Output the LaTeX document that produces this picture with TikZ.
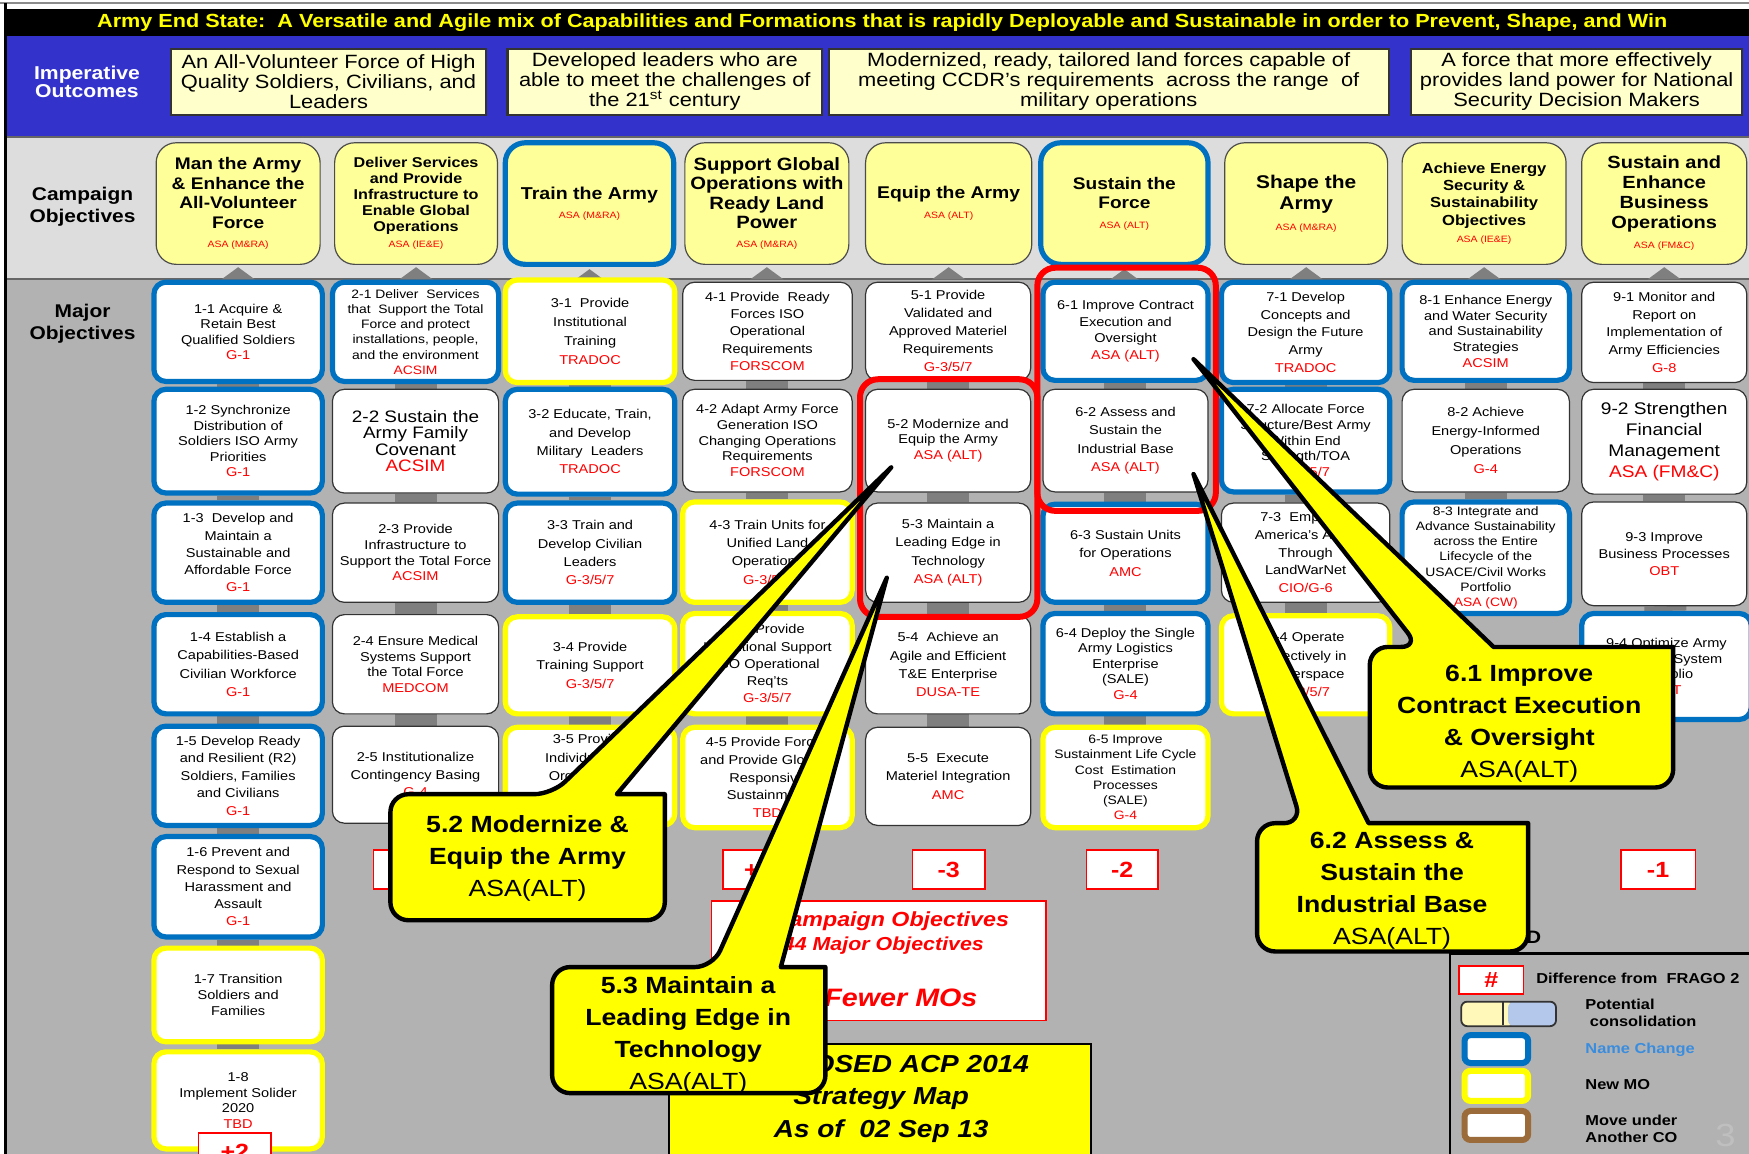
\documentclass[tikz,border=0pt]{standalone}
\usepackage{fontspec}
\setmainfont{Liberation Sans}[FakeStretch=1.138]
\usetikzlibrary{calc}
\definecolor{barblue}{HTML}{3333CC}
\definecolor{cream}{HTML}{FFFFCC}
\definecolor{coyellow}{HTML}{FFFF99}
\definecolor{bandgrey}{HTML}{DDDDDD}
\definecolor{mogrey}{HTML}{B2B2B2}
\definecolor{conngrey}{HTML}{7F7F7F}
\definecolor{nameblue}{HTML}{0070C0}
\definecolor{newyellow}{HTML}{FFFF00}
\definecolor{agred}{HTML}{FF0000}
\definecolor{movebrown}{HTML}{9C6B3A}
\definecolor{lblue}{HTML}{3A8DDE}
\definecolor{swyellow}{HTML}{FFF8B8}
\definecolor{swblue}{HTML}{B4C8EC}
\newcommand\ag[1]{\textcolor{agred}{#1}}
\newcommand\coag[1]{\textcolor{agred}{\mdseries\fontsize{4.6}{5}\selectfont #1}}
\newcommand\callout[8]{%
\path[callout] (#1,{(#2+#4)/2}) [rounded corners=9pt] -- (#1,#2) -- (#5,#2) [sharp corners] -- (#7,#8) -- (#6,#2) -- (#3,#2) [rounded corners=9pt] -- (#3,#4) -- (#1,#4) -- cycle;}
\pgfdeclarelayer{back}
\pgfdeclarelayer{mid}
\pgfsetlayers{back,mid,main}
\tikzset{
  bx/.style n args={4}{at={({(#1+#3)/2},{(#2+#4)/2})}, minimum width={(#3-#1)*0.5577pt}, minimum height={(#4-#2)*0.5577pt}},
  mo/.style={draw=black!80, line width=0.6pt, fill=white, rounded corners=6pt, inner sep=0pt, align=center, font=\fontsize{6.4}{7.8}\selectfont},
  mob/.style={mo, draw=nameblue, line width=2.6pt},
  moy/.style={mo, draw=newyellow, line width=2.6pt},
  co/.style={draw=black!70, line width=0.6pt, fill=coyellow, rounded corners=10pt, inner sep=0pt, align=center, font=\bfseries\fontsize{8.4}{9.8}\selectfont},
  cob/.style={co, draw=nameblue, line width=2.6pt},
  outc/.style={draw=black!80, line width=1.1pt, fill=cream, inner sep=0pt, align=center, font=\fontsize{9.6}{10}\selectfont},
  conn/.style={conngrey, line width=21pt},
  diff/.style={draw=agred, line width=0.8pt, fill=white, inner sep=0pt, text=agred, font=\bfseries\fontsize{11}{13}\selectfont},
  hl/.style={draw=agred, line width=3pt, rounded corners=9pt, inner sep=0pt},
  callout/.style={fill=newyellow, draw=black, line width=2.2pt, line join=round},
  ctext/.style={align=center, font=\bfseries\fontsize{11.7}{16}\selectfont},
  lgtext/.style={anchor=west, align=left, font=\bfseries\fontsize{7.2}{8.6}\selectfont},
  lgbox/.style={fill=white, line width=3pt, rounded corners=3pt, inner sep=0pt},
  rowlabel/.style={align=center, font=\bfseries\fontsize{9.2}{11}\selectfont},
}
\begin{document}
\begin{tikzpicture}[x=0.5577pt,y=-0.5577pt]
\useasboundingbox (0,0) rectangle (1568,1034);
% ---------- backgrounds
\begin{pgfonlayer}{back}
\fill[white] (0,0) rectangle (1568,1034);
\fill[black] (5,8) rectangle (1570,32);
\fill[barblue] (5,32) rectangle (1570,123);
\fill[bandgrey] (5,123) rectangle (1570,250);
\fill[mogrey] (5,250) rectangle (1570,1040);
\draw[black!60, line width=1pt] (5,123) -- (1570,123);
\draw[black!60, line width=1.2pt] (5,250) -- (1570,250);
\draw[black!45, line width=1pt] (0,3) -- (1570,3);
\draw[black, line width=1.4pt] (5,3) -- (5,1040);
\end{pgfonlayer}
% ---------- header
\node[text=newyellow, font=\bfseries\fontsize{9.5}{11}\selectfont] (endstate) at (791,20) {Army End State:\ \ A Versatile and Agile mix of Capabilities and Formations that is rapidly Deployable and Sustainable in order to Prevent, Shape, and Win};
\node[rowlabel, text=white, font=\bfseries\fontsize{9.3}{9}\selectfont] (implab) at (78,73) {Imperative\\Outcomes};
\node[outc, bx={153}{44}{436}{103}] (o1) {An All-Volunteer Force of High\\Quality Soldiers, Civilians, and\\Leaders};
\node[outc, bx={455}{44}{737}{103}] (o2) {Developed leaders who are\\able to meet the challenges of\\the 21\textsuperscript{st} century};
\node[outc, bx={743}{44}{1245}{103}] (o3) {Modernized, ready, tailored land forces capable of\\meeting CCDR's requirements\ \ across the range\ \ of\\military operations};
\node[outc, bx={1265}{44}{1562}{103}] (o4) {A force that more effectively\\provides land power for National\\Security Decision Makers};
% ---------- campaign objectives
\node[rowlabel] (colab) at (74,185) {Campaign\\Objectives};
\node[co, bx={140}{128}{287}{237}] (c1) {Man the Army\\\& Enhance the\\All-Volunteer\\Force\\\coag{ASA (M\&RA)}};
\node[co, bx={300}{128}{446}{237}, font=\bfseries\fontsize{7.1}{8}\selectfont] (c2) {Deliver Services\\and Provide\\Infrastructure to\\Enable Global\\Operations\\\coag{ASA (IE\&E)}};
\node[cob, bx={453}{128}{604}{237}, font=\bfseries\fontsize{8.6}{9.8}\selectfont] (c3) {Train the Army\\\coag{ASA (M\&RA)}};
\node[co, bx={614}{128}{761}{237}, font=\bfseries\fontsize{8.9}{9.6}\selectfont] (c4) {Support Global\\Operations with\\Ready Land\\Power\\\coag{ASA (M\&RA)}};
\node[co, bx={776}{128}{925}{237}, font=\bfseries\fontsize{8.5}{9.8}\selectfont] (c5) {Equip the Army\\\coag{ASA (ALT)}};
\node[cob, bx={933}{128}{1083}{237}, font=\bfseries\fontsize{8.4}{9.8}\selectfont] (c6) {Sustain the\\Force\\\coag{ASA (ALT)}};
\node[co, bx={1098}{128}{1244}{237}, font=\bfseries\fontsize{9.2}{10.5}\selectfont] (c7) {Shape the\\Army\\\coag{ASA (M\&RA)}};
\node[co, bx={1257}{128}{1404}{237}, font=\bfseries\fontsize{7.3}{8.6}\selectfont] (c8) {Achieve Energy\\Security \&\\Sustainability\\Objectives\\\coag{ASA (IE\&E)}};
\node[co, bx={1418}{128}{1566}{237}, font=\bfseries\fontsize{8.8}{10}\selectfont] (c9) {Sustain and\\Enhance\\Business\\Operations\\\coag{ASA (FM\&C)}};
\foreach \c in {c1,c2,c3,c4,c5,c6,c7,c8,c9}{
  \fill[conngrey] ($(\c.south)+(-15,13)$) -- ($(\c.south)+(0,2)$) -- ($(\c.south)+(15,13)$) -- cycle;
}
% ---------- major objectives
\node[rowlabel] (molab) at (74,290) {Major\\Objectives};
% column 1
\node[mob, bx={138}{253}{289}{342}] (m11) {1-1 Acquire \&\\Retain Best\\Qualified Soldiers\\\ag{G-1}};
\node[mob, bx={138}{349}{289}{442}] (m12) {1-2 Synchronize\\Distribution of\\Soldiers ISO Army\\Priorities\\\ag{G-1}};
\node[mob, bx={138}{451}{289}{540}, font=\fontsize{6.4}{8.6}\selectfont] (m13) {1-3\ \ Develop and\\Maintain a\\Sustainable and\\Affordable Force\\\ag{G-1}};
\node[mob, bx={138}{551}{289}{640}, font=\fontsize{6.4}{9.2}\selectfont] (m14) {1-4 Establish a\\Capabilities-Based\\Civilian Workforce\\\ag{G-1}};
\node[mob, bx={138}{651}{289}{740}, font=\fontsize{6.4}{8.8}\selectfont] (m15) {1-5 Develop Ready\\and Resilient (R2)\\Soldiers, Families\\and Civilians\\\ag{G-1}};
\node[mob, bx={138}{750}{289}{840}, font=\fontsize{6.4}{8.6}\selectfont] (m16) {1-6 Prevent and\\Respond to Sexual\\Harassment and\\Assault\\\ag{G-1}};
\node[moy, bx={138}{850}{289}{934}] (m17) {1-7 Transition\\Soldiers and\\Families};
\node[moy, bx={138}{943}{289}{1030}] (m18) {1-8\\Implement Solider\\2020\\\ag{TBD}};
% column 2
\node[mob, bx={298}{253}{447}{342}, font=\fontsize{6.1}{7.6}\selectfont] (m21) {2-1 Deliver\ \ Services\\that\ \ Support the Total\\Force and protect\\installations, people,\\and the environment\\\ag{ACSIM}};
\node[mo, bx={298}{349}{447}{442}, font=\fontsize{8.3}{8.2}\selectfont] (m22) {2-2 Sustain the\\Army Family\\Covenant\\\ag{ACSIM}};
\node[mo, bx={298}{451}{447}{540}] (m23) {2-3 Provide\\Infrastructure to\\Support the Total Force\\\ag{ACSIM}};
\node[mo, bx={298}{551}{447}{640}] (m24) {2-4 Ensure Medical\\Systems Support\\the Total Force\\\ag{MEDCOM}};
\node[mo, bx={298}{651}{447}{738}, font=\fontsize{6.4}{8.8}\selectfont] (m25) {2-5 Institutionalize\\Contingency Basing\\\ag{G-4}};
% column 3
\node[moy, bx={453}{251}{605}{343}, font=\fontsize{6.4}{9.4}\selectfont] (m31) {3-1\ \ Provide\\Institutional\\Training\\\ag{TRADOC}};
\node[mob, bx={453}{349}{605}{443}, font=\fontsize{6.4}{9.2}\selectfont] (m32) {3-2 Educate, Train,\\and Develop\\Military\ \ Leaders\\\ag{TRADOC}};
\node[mob, bx={453}{451}{605}{540}, font=\fontsize{6.4}{9.2}\selectfont] (m33) {3-3 Train and\\Develop Civilian\\Leaders\\\ag{G-3/5/7}};
\node[moy, bx={453}{553}{605}{640}, font=\fontsize{6.4}{9.2}\selectfont] (m34) {3-4 Provide\\Training Support\\\ag{G-3/5/7}};
\node[moy, bx={453}{652}{605}{740}, font=\fontsize{6.4}{9.4}\selectfont] (m35) {3-5 Provide\\Individual and\\Organization\\\mbox{}\\\mbox{}};
% column 4
\node[mo, bx={612}{253}{764}{341}, font=\fontsize{6.4}{8.6}\selectfont] (m41) {4-1 Provide\ \ Ready\\Forces ISO\\Operational\\Requirements\\\ag{FORSCOM}};
\node[mo, bx={612}{349}{764}{441}] (m42) {4-2 Adapt Army Force\\Generation ISO\\Changing Operations\\Requirements\\\ag{FORSCOM}};
\node[moy, bx={612}{450}{764}{540}, font=\fontsize{6.4}{9.2}\selectfont] (m43) {4-3 Train Units for\\Unified Land\\Operations\\\ag{G-3/5/7}};
\node[moy, bx={612}{550}{764}{640}, font=\fontsize{6.4}{8.6}\selectfont] (m44) {4-4 Provide\\Institutional Support\\ISO Operational\\Req'ts\\\ag{G-3/5/7}};
\node[moy, bx={612}{652}{764}{742}, font=\fontsize{6.4}{8.8}\selectfont] (m45) {4-5 Provide Forces\\and Provide Globally\\Responsive\\Sustainment\\\ag{TBD}};
% column 5
\node[mo, bx={776}{253}{924}{341}, font=\fontsize{6.4}{9.0}\selectfont] (m51) {5-1 Provide\\Validated and\\Approved Materiel\\Requirements\\\ag{G-3/5/7}};
\node[mo, bx={776}{349}{924}{441}] (m52) {5-2 Modernize and\\Equip the Army\\\ag{ASA (ALT)}};
\node[mo, bx={776}{451}{924}{540}, font=\fontsize{6.4}{9.2}\selectfont] (m53) {5-3 Maintain a\\Leading Edge in\\Technology\\\ag{ASA (ALT)}};
\node[mo, bx={776}{552}{924}{640}, font=\fontsize{6.4}{9.2}\selectfont] (m54) {5-4\ \ Achieve an\\Agile and Efficient\\T\&E Enterprise\\\ag{DUSA-TE}};
\node[mo, bx={776}{652}{924}{740}, font=\fontsize{6.4}{9.2}\selectfont] (m55) {5-5\ \ Execute\\Materiel Integration\\\ag{AMC}};
% column 6
\node[mob, bx={935}{253}{1083}{341}, font=\fontsize{6.4}{8.2}\selectfont] (m61) {6-1 Improve Contract\\Execution and\\Oversight\\\ag{ASA (ALT)}};
\node[mo, bx={935}{349}{1083}{441}, font=\fontsize{6.4}{9.2}\selectfont] (m62) {6-2 Assess and\\Sustain the\\Industrial Base\\\ag{ASA (ALT)}};
\node[mob, bx={935}{452}{1083}{540}, font=\fontsize{6.4}{9.2}\selectfont] (m63) {6-3 Sustain Units\\for Operations\\\ag{AMC}};
\node[mob, bx={935}{550}{1083}{640}] (m64) {6-4 Deploy the Single\\Army Logistics\\Enterprise\\(SALE)\\\ag{G-4}};
\node[moy, bx={935}{652}{1083}{742}, font=\fontsize{6.1}{7.6}\selectfont] (m65) {6-5 Improve\\Sustainment Life Cycle\\Cost\ \ Estimation\\Processes\\(SALE)\\\ag{G-4}};
% column 7
\node[mob, bx={1095}{253}{1246}{343}, font=\fontsize{6.4}{8.8}\selectfont] (m71) {7-1 Develop\\Concepts and\\Design the Future\\Army\\\ag{TRADOC}};
\node[mob, bx={1095}{349}{1246}{441}] (m72) {7-2 Allocate Force\\Structure/Best Army\\Within End\\Strength/TOA\\\ag{G-3/5/7}};
\node[mo, bx={1095}{451}{1246}{540}, font=\fontsize{6.4}{8.8}\selectfont] (m73) {7-3\ \ Empower\\America's Army\\Through\\LandWarNet\\\ag{CIO/G-6}};
\node[moy, bx={1095}{552}{1246}{640}, font=\fontsize{6.4}{9.2}\selectfont] (m74) {7-4 Operate\\Effectively in\\Cyberspace\\\ag{G-3/5/7}};
% column 8
\node[mob, bx={1257}{253}{1407}{341}] (m81) {8-1 Enhance Energy\\and Water Security\\and Sustainability\\Strategies\\\ag{ACSIM}};
\node[mo, bx={1257}{349}{1407}{441}, font=\fontsize{6.4}{9.4}\selectfont] (m82) {8-2 Achieve\\Energy-Informed\\Operations\\\ag{G-4}};
\node[mob, bx={1257}{450}{1407}{550}, font=\fontsize{6.1}{7.6}\selectfont] (m83) {8-3 Integrate and\\Advance Sustainability\\across the Entire\\Lifecycle of the\\USACE/Civil Works\\Portfolio\\\ag{ASA (CW)}};
% column 9
\node[mo, bx={1418}{253}{1566}{343}, font=\fontsize{6.4}{8.8}\selectfont] (m91) {9-1 Monitor and\\Report on\\Implementation of\\Army Efficiencies\\\ag{G-8}};
\node[mo, bx={1418}{349}{1566}{443}, font=\fontsize{8.4}{10.6}\selectfont] (m92) {9-2 Strengthen\\Financial\\Management\\\ag{ASA (FM\&C)}};
\node[mo, bx={1418}{450}{1566}{543}, font=\fontsize{6.4}{8.6}\selectfont] (m93) {9-3 Improve\\Business Processes\\\ag{OBT}};
\node[mob, bx={1418}{550}{1570}{645}] (m94) {9-4 Optimize Army\\Business System\\Portfolio\\\ag{OBT}};
% connectors
\begin{pgfonlayer}{mid}
\foreach \a/\b in {m11/m12,m12/m13,m13/m14,m14/m15,m15/m16,m16/m17,m17/m18,
  m21/m22,m22/m23,m23/m24,m24/m25,m31/m32,m32/m33,m33/m34,m34/m35,
  m41/m42,m42/m43,m43/m44,m44/m45,m51/m52,m52/m53,m53/m54,m54/m55,
  m61/m62,m62/m63,m63/m64,m64/m65,m71/m72,m72/m73,m73/m74,
  m81/m82,m82/m83,m91/m92,m92/m93,m93/m94}{
  \draw[conn] (\a) -- (\b);
}
\end{pgfonlayer}
% highlight frames
\node[hl, bx={771}{340}{930}{553}] (hl5) {};
\node[hl, bx={930}{240}{1090}{458}] (hl6) {};
% difference boxes
\node[diff, bx={335}{762}{400}{797}] (d2) {};
\node[diff, bx={648}{762}{712}{797}] (d4) {+1};
\node[diff, bx={818}{762}{883}{797}] (d5) {-3};
\node[diff, bx={974}{762}{1038}{797}] (d6) {-2};
\node[diff, bx={1453}{762}{1520}{797}] (d9) {-1};
\node[diff, bx={178}{1016}{243}{1050}] (d1) {+2};
% summary box
\node[draw=agred, line width=0.8pt, fill=white, inner sep=0pt, bx={638}{808}{938}{915}] (summ) {};
\node[text=agred, font=\bfseries\itshape\fontsize{10.2}{12}\selectfont] (s1) at (790,826) {9 Campaign Objectives};
\node[text=agred, font=\bfseries\itshape\fontsize{9.4}{12}\selectfont] (s2) at (792,848) {44 Major Objectives};
\node[text=agred, font=\bfseries\itshape\fontsize{12.6}{14}\selectfont] (s3) at (797,895) {4 Fewer MOs};
% title box
\node[fill=newyellow, draw=black, line width=0.8pt, inner sep=0pt, bx={600}{936}{978}{1045}] (ttlbox) {};
\node[align=center, font=\bfseries\itshape\fontsize{12.3}{16.2}\selectfont] (ttl) at (790,985) {PROPOSED ACP 2014\\Strategy Map\\As of\ \ 02 Sep 13};
% legend
\node[font=\bfseries\fontsize{9}{10}\selectfont, anchor=east] (lgtitle) at (1388,840) {LEGEND};
\node[fill=mogrey, draw=black, line width=1.4pt, inner sep=0pt, bx={1300}{855}{1575}{1045}] (legend) {};
\node[diff, bx={1308}{866}{1366}{891}] (lg1) {\#};
\node[lgtext] (lgt1) at (1371,877) {Difference from\ \ FRAGO 2};
\fill[swyellow, rounded corners=3pt] (1310,898) rectangle (1356,920);
\fill[swblue, rounded corners=3pt] (1352,898) rectangle (1395,920);
\node[draw=black!80, line width=0.9pt, rounded corners=3pt, inner sep=0pt, bx={1310}{898}{1395}{920}] (lg2) {};
\draw[black!80, line width=0.9pt] (lg2.north) ++(-5,0) -- ++(0,22);
\node[lgtext] (lgt2) at (1415,908) {Potential\\\ consolidation};
\node[lgbox, draw=nameblue, bx={1313}{928}{1370}{953}] (lg3) {};
\node[lgtext, text=lblue] (lgt3) at (1415,941) {Name Change};
\node[lgbox, draw=newyellow, bx={1313}{960}{1370}{987}] (lg4) {};
\node[lgtext] (lgt4) at (1415,972) {New MO};
\node[lgbox, draw=movebrown, bx={1313}{996}{1370}{1022}] (lg5) {};
\node[lgtext] (lgt5) at (1415,1012) {Move under\\Another CO};
\node[text=black!25, font=\fontsize{16}{18}\selectfont] (pgno) at (1547,1018) {3};
% callouts
\callout{350}{712}{596}{825}{495}{553}{799}{419}
\node[ctext] (k52) at (473,770) {5.2 Modernize \&\\Equip the Army\\\mdseries ASA(ALT)};
\callout{495}{867}{740}{980}{639}{700}{795}{518}
\node[ctext] (k53) at (617,928) {5.3 Maintain a\\Leading Edge in\\Technology\\\mdseries ASA(ALT)};
\callout{1228}{580}{1500}{706}{1272}{1339}{1070}{322}
\node[ctext] (k61) at (1362,649) {6.1 Improve\\Contract Execution\\\& Oversight\\\mdseries ASA(ALT)};
\callout{1127}{738}{1370}{853}{1167}{1227}{1070}{425}
\node[ctext] (k62) at (1248,799) {6.2 Assess \&\\Sustain the\\Industrial Base\\\mdseries ASA(ALT)};
\end{tikzpicture}
\end{document}
